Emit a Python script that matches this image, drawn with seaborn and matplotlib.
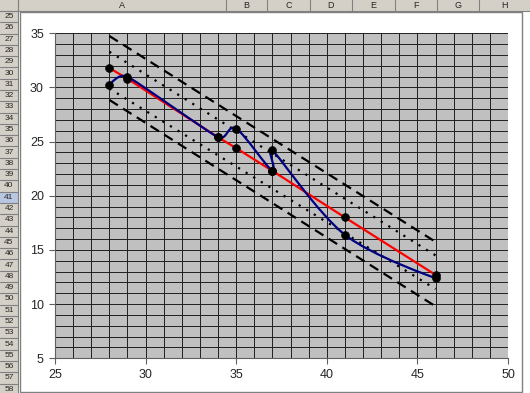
import numpy as np
import matplotlib.pyplot as plt
import seaborn as sns
from matplotlib.path import Path
from matplotlib.patches import PathPatch, Rectangle

# Observed points (blue smoothed line) and fitted values (red line)
x_obs = [28, 29, 34, 35, 37, 37, 41, 46]
y_obs = [30.2, 31.0, 25.4, 26.2, 22.3, 24.2, 16.4, 12.4]
y_fit = [31.8, 30.8, 25.4, 24.4, 22.3, 22.3, 18.0, 12.7]

# Band lines, read at both ends
x_band = [28, 46]
upper_outer = [34.75, 15.75]
upper_inner = [33.3, 14.5]
lower_inner = [29.9, 11.4]
lower_outer = [28.85, 9.8]

# Spreadsheet frame around the chart
col_names = ["A", "B", "C", "D", "E", "F", "G", "H"]
col_edges = [18, 226, 267, 310, 352, 395, 437, 479, 530]
row_numbers = list(range(25, 59))
selected_row = 41

sns.set_style("white")
plt.rcParams["font.family"] = ["Liberation Sans", "DejaVu Sans"]

W, H = 530, 393
fig = plt.figure(figsize=(W / 100, H / 100), dpi=100)

# background layer in pixel coordinates
bg = fig.add_axes([0, 0, 1, 1])
bg.set_xlim(0, W)
bg.set_ylim(H, 0)
bg.axis("off")

head_gray = "#D4D0C8"
bg.add_patch(Rectangle((0, 0), W, 11, facecolor=head_gray, edgecolor="none"))
bg.add_patch(Rectangle((0, 0), 18, H, facecolor=head_gray, edgecolor="none"))
for i, name in enumerate(col_names):
    left, right = col_edges[i], col_edges[i + 1]
    bg.plot([left, left], [0, 11], color="#808080", lw=0.8)
    bg.text((left + right) / 2, 5.8, name, ha="center", va="center", fontsize=6.5)
row_h = 11.29
for j, r in enumerate(row_numbers):
    top = 11 + j * row_h
    if r == selected_row:
        bg.add_patch(Rectangle((0, top), 18, row_h, facecolor="#B8C6E2", edgecolor="none"))
    bg.plot([0, 18], [top, top], color="#808080", lw=0.8)
    bg.text(9, top + row_h / 2, str(r), ha="center", va="center", fontsize=6)
bg.plot([18, 18], [0, H], color="#808080", lw=0.8)
bg.plot([0, W], [11, 11], color="#808080", lw=0.8)

# chart area border
bg.add_patch(Rectangle((20, 12), 502, 380, facecolor="white", edgecolor="#808080", lw=1))

# plot area
ax = fig.add_axes([55 / W, (H - 358.3) / H, (508 - 55) / W, (358.3 - 33.3) / H])
ax.set_facecolor("#C0C0C0")
ax.set_xlim(25, 50)
ax.set_ylim(5, 35)
ax.set_xticks(range(25, 51, 5))
ax.set_yticks(range(5, 36, 5))
ax.set_xticks(range(25, 51), minor=True)
ax.set_yticks(range(5, 36), minor=True)
ax.grid(True, which="both", color="#202020", lw=0.7)
ax.set_axisbelow(True)
for side in ["top", "right"]:
    ax.spines[side].set_visible(False)
for side in ["left", "bottom"]:
    ax.spines[side].set_color("#606060")
ax.tick_params(which="major", direction="out", length=4, width=0.8, color="#606060",
               labelsize=9, pad=4, left=True, bottom=True)
ax.tick_params(which="minor", length=0)

# bands
sns.lineplot(x=x_band, y=upper_outer, ax=ax, color="black", lw=1.6,
             linestyle=(0, (4.5, 2.8)))
sns.lineplot(x=x_band, y=lower_outer, ax=ax, color="black", lw=1.6,
             linestyle=(0, (4.5, 2.8)))
sns.lineplot(x=x_band, y=upper_inner, ax=ax, color="black", lw=1.6,
             linestyle=(0, (1, 3)))
sns.lineplot(x=x_band, y=lower_inner, ax=ax, color="black", lw=1.6,
             linestyle=(0, (1, 3)))

# fitted line
sns.lineplot(x=x_obs, y=y_fit, ax=ax, color="#FF0000", lw=1.6, sort=False, errorbar=None)


# smoothed observed line, Excel style: arm = min(|P2-P0|/6, shorter segment/2)
def smooth_path(xs, ys):
    pts = np.column_stack([xs, ys]).astype(float)
    scr = ax.transData.transform(pts)
    n = len(pts)
    arms = []
    for i in range(n):
        if i == 0 or i == n - 1:
            arms.append(np.zeros(2))
            continue
        d01 = np.hypot(*(scr[i] - scr[i - 1]))
        d12 = np.hypot(*(scr[i + 1] - scr[i]))
        d02 = np.hypot(*(scr[i + 1] - scr[i - 1]))
        f = min(1 / 6, min(d01, d12) / 2 / d02) if d02 > 0 else 0
        arms.append((pts[i + 1] - pts[i - 1]) * f)
    verts = [pts[0]]
    codes = [Path.MOVETO]
    for i in range(n - 1):
        verts += [pts[i] + arms[i], pts[i + 1] - arms[i + 1], pts[i + 1]]
        codes += [Path.CURVE4] * 3
    return Path(verts, codes)


ax.add_patch(PathPatch(smooth_path(x_obs, y_obs), facecolor="none",
                       edgecolor="#000080", lw=1.6, zorder=3))

# data markers
sns.scatterplot(x=x_obs, y=y_obs, ax=ax, color="black", s=32, edgecolor="black", zorder=4)
sns.scatterplot(x=x_obs, y=y_fit, ax=ax, color="black", s=32, edgecolor="black", zorder=4)
ax.set_xlabel("")
ax.set_ylabel("")

fig.savefig("out.png", dpi=100)
